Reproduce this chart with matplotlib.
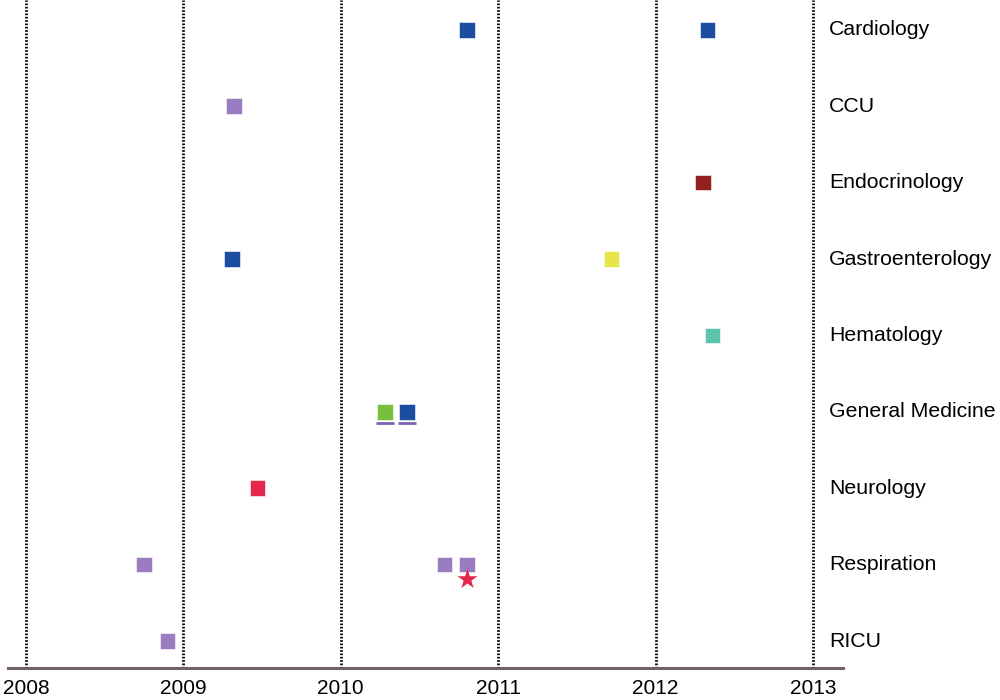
import matplotlib.pyplot as plt

plt.rcParams['font.family'] = ['Liberation Sans', 'DejaVu Sans']

departments = ['Cardiology', 'CCU', 'Endocrinology', 'Gastroenterology', 'Hematology',
               'General Medicine', 'Neurology', 'Respiration', 'RICU']
years = [2008, 2009, 2010, 2011, 2012, 2013]

# (department, year, colour) for each square
square_dept = ['Cardiology', 'Cardiology', 'CCU', 'Endocrinology', 'Gastroenterology',
               'Gastroenterology', 'Hematology', 'General Medicine', 'General Medicine',
               'Neurology', 'Respiration', 'Respiration', 'Respiration', 'RICU']
square_year = [2010.80, 2012.33, 2009.32, 2012.30, 2009.31,
               2011.72, 2012.36, 2010.28, 2010.42,
               2009.47, 2008.75, 2010.66, 2010.80, 2008.90]
square_color = ['#1b4e9e', '#1b4e9e', '#9a7cc1', '#92201f', '#1b4e9e',
                '#e6e64a', '#5cc1ad', '#79bf3c', '#1b4e9e',
                '#e3284a', '#9a7cc1', '#9a7cc1', '#9a7cc1', '#9a7cc1']

# underlined squares (General Medicine) and the star (Respiration)
underline_year = [2010.28, 2010.42]
star_year = [2010.80]

ypos = {d: len(departments) - 1 - i for i, d in enumerate(departments)}

fig, ax = plt.subplots(figsize=(10, 7), dpi=100)
fig.subplots_adjust(left=0.008, right=0.843, top=1.0, bottom=0.046)

for yr in years:
    ax.axvline(yr, color='black', linestyle=(0, (0.6, 0.6)), linewidth=2.0, zorder=1)

ax.scatter(square_year, [ypos[d] for d in square_dept], marker='s', s=125,
           c=square_color, edgecolors='white', linewidths=0.4, zorder=3)
ax.scatter(underline_year, [ypos['General Medicine'] - 0.15] * len(underline_year),
           marker='_', s=180, c='#7b62b5', linewidths=2, zorder=3)
ax.scatter(star_year, [ypos['Respiration'] - 0.19], marker='*', s=230,
           c='#e3284a', linewidths=0, zorder=4)

for d in departments:
    ax.text(0.983, ypos[d], d, transform=ax.get_yaxis_transform(),
            fontsize=15.3, va='center', ha='left', clip_on=False)

ax.set_xlim(2007.886, 2013.19)
ax.set_ylim(-0.35, len(departments) - 1 + 0.39)
ax.set_xticks(years)
ax.set_xticklabels([str(y) for y in years], fontsize=15)
ax.tick_params(axis='x', length=0, pad=8)
ax.set_yticks([])
for s in ['top', 'right', 'left']:
    ax.spines[s].set_visible(False)
ax.spines['bottom'].set_color('#6e6360')
ax.spines['bottom'].set_linewidth(2.2)

plt.savefig('out.png', dpi=100)
